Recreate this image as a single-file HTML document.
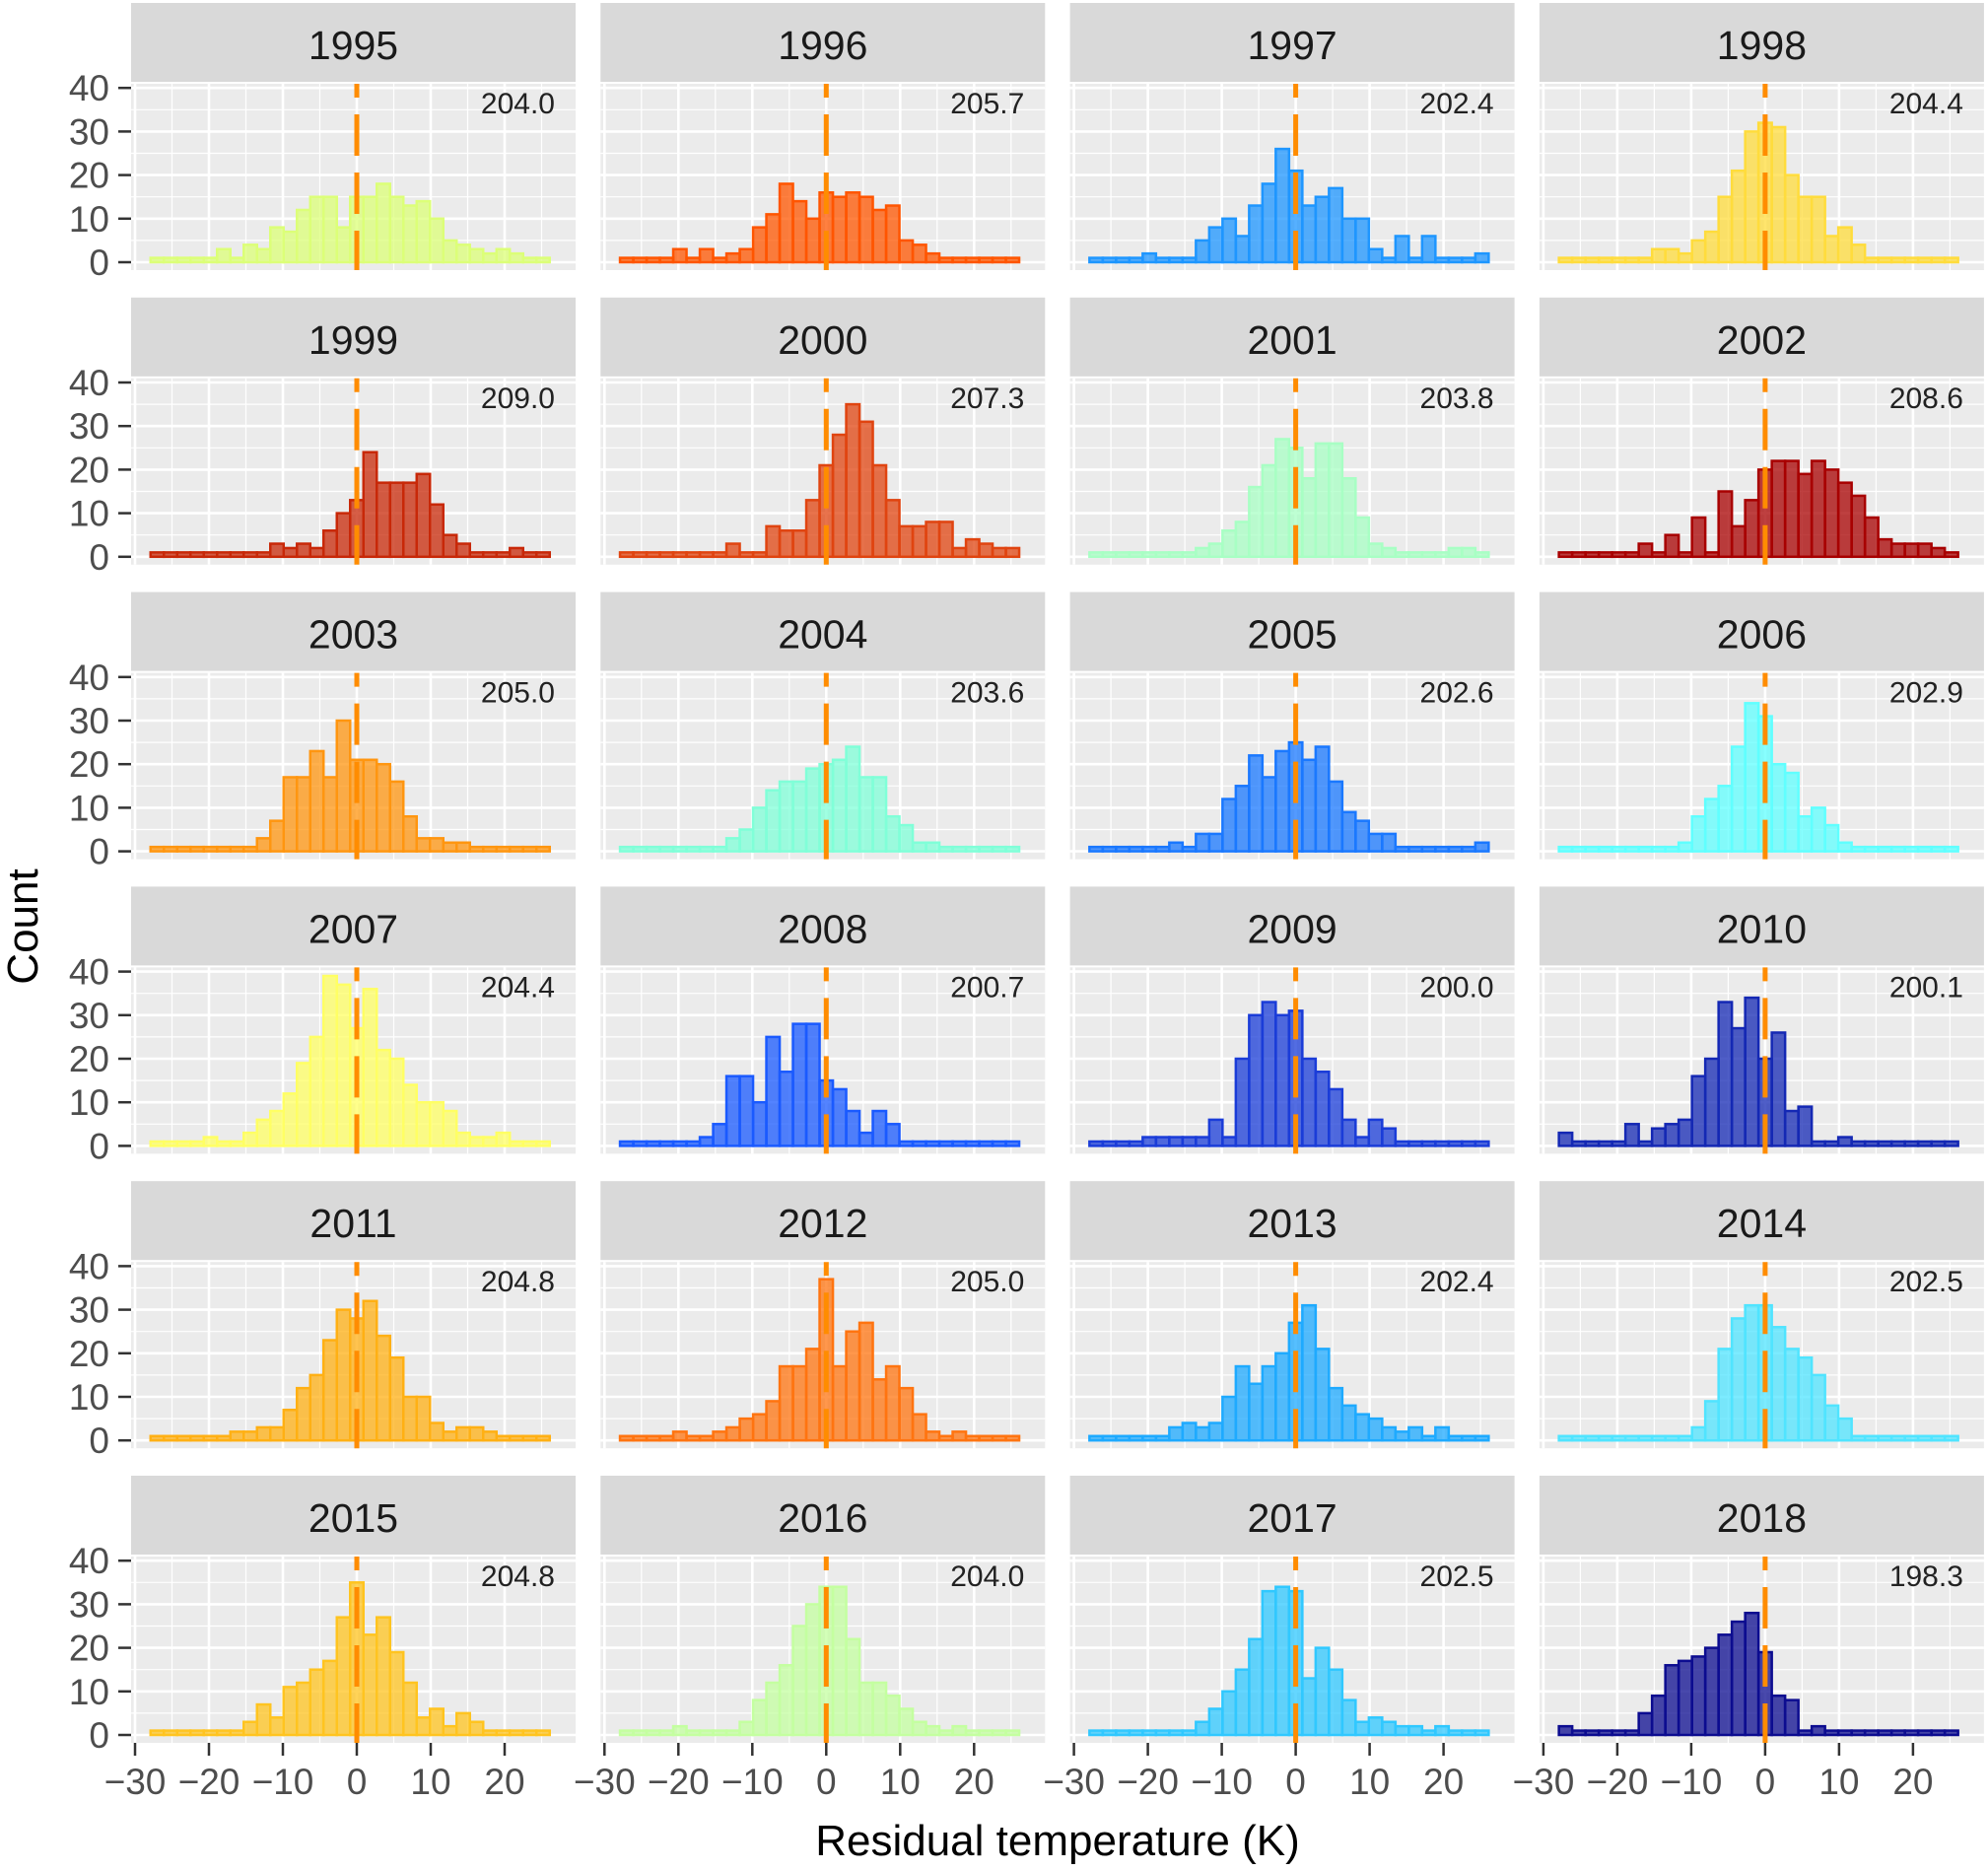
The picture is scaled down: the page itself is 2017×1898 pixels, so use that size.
<!DOCTYPE html>
<html><head><meta charset="utf-8">
<style>
html,body{margin:0;padding:0;background:#fff;}
svg{display:block;font-family:"Liberation Sans",Arial,sans-serif;}
</style></head>
<body>
<svg id="chart" width="2017" height="1898" viewBox="0 0 2017 1898" xmlns="http://www.w3.org/2000/svg">
<text x="0" y="0" transform="translate(38,940) rotate(-90)" text-anchor="middle" font-size="44" fill="#000">Count</text>
<text x="1073" y="1882" text-anchor="middle" font-size="44" fill="#000">Residual  temperature (K)</text>
</svg>
<script>
const years = ["1995","1996","1997","1998","1999","2000","2001","2002","2003","2004","2005","2006","2007","2008","2009","2010","2011","2012","2013","2014","2015","2016","2017","2018"];
const meanLabels = ["204.0","205.7","202.4","204.4","209.0","207.3","203.8","208.6","205.0","203.6","202.6","202.9","204.4","200.7","200.0","200.1","204.8","205.0","202.4","202.5","204.8","204.0","202.5","198.3"];
const colors = ["#dcff78","#ff5500","#1e96ff","#ffdc3c","#c82808","#e04410","#a8ffc4","#a80000","#ff9610","#80ffd8","#1a78ff","#60ffff","#ffff64","#1a5aff","#1a3cd8","#1428b4","#ffb014","#ff7410","#1eaaff","#50e4ff","#ffc420","#c4ffa0","#30c8ff","#0c0c90"];
const binCenters0 = -27, binWidth = 1.8;
const counts = [
[1,1,1,1,1,3,1,4,3,8,7,12,15,15,8,15,15,18,15,13,14,10,5,4,3,2,3,2,1,1],
[1,1,1,1,3,1,3,1,2,3,8,11,18,14,10,16,15,16,15,12,13,5,4,2,1,1,1,1,1,1],
[1,1,1,1,2,1,1,1,5,8,10,6,13,18,26,21,13,15,17,10,10,3,1,6,1,6,1,1,1,2],
[1,1,1,1,1,1,1,3,3,2,5,7,15,21,30,32,31,20,15,15,6,8,4,1,1,1,1,1,1,1],
[1,1,1,1,1,1,1,1,1,3,2,3,2,6,10,13,24,17,17,17,19,12,5,3,1,1,1,2,1,1],
[1,1,1,1,1,1,1,1,3,1,1,7,6,6,13,21,28,35,31,21,13,7,7,8,8,2,4,3,2,2],
[1,1,1,1,1,1,1,1,2,3,6,8,16,21,27,25,18,26,26,18,9,3,2,1,1,1,1,2,2,1],
[1,1,1,1,1,1,3,1,5,1,9,1,15,7,13,20,22,22,19,22,20,17,14,9,4,3,3,3,2,1],
[1,1,1,1,1,1,1,1,3,7,17,17,23,17,30,21,21,20,16,8,3,3,2,2,1,1,1,1,1,1],
[1,1,1,1,1,1,1,1,3,5,10,14,16,16,19,20,21,24,17,17,8,6,2,2,1,1,1,1,1,1],
[1,1,1,1,1,1,2,1,4,4,12,15,22,17,23,25,21,24,16,9,7,4,4,1,1,1,1,1,1,2],
[1,1,1,1,1,1,1,1,1,2,8,12,15,24,34,31,20,18,8,10,6,2,1,1,1,1,1,1,1,1],
[1,1,1,1,2,1,1,3,6,8,12,19,25,39,37,27,36,22,20,14,10,10,8,3,2,2,3,1,1,1],
[1,1,1,1,1,1,2,5,16,16,10,25,17,28,28,15,13,8,3,8,5,1,1,1,1,1,1,1,1,1],
[1,1,1,1,2,2,2,2,2,6,2,20,30,33,30,31,20,17,13,6,2,6,4,1,1,1,1,1,1,1],
[3,1,1,1,1,5,1,4,5,6,16,20,33,27,34,20,26,8,9,1,1,2,1,1,1,1,1,1,1,1],
[1,1,1,1,1,1,2,2,3,3,7,12,15,23,30,28,32,24,19,10,10,4,2,3,3,2,1,1,1,1],
[1,1,1,1,2,1,1,2,3,5,6,9,17,17,21,37,17,25,27,14,17,12,6,2,1,2,1,1,1,1],
[1,1,1,1,1,1,3,4,3,4,10,17,13,17,20,27,31,21,12,8,6,5,3,2,3,1,3,1,1,1],
[1,1,1,1,1,1,1,1,1,1,3,9,21,28,31,31,26,21,19,15,8,5,1,1,1,1,1,1,1,1],
[1,1,1,1,1,1,1,3,7,4,11,12,15,17,27,35,23,27,19,12,4,6,2,5,3,1,1,1,1,1],
[1,1,1,1,2,1,1,1,1,3,8,12,16,25,30,34,34,22,12,12,9,6,3,2,1,2,1,1,1,1],
[1,1,1,1,1,1,1,1,3,6,10,15,22,33,34,33,13,20,15,8,3,4,3,2,2,1,2,1,1,1],
[2,1,1,1,1,1,5,9,16,17,18,20,23,26,28,19,9,8,1,2,1,1,1,1,1,1,1,1,1,1]
];
const yTicks = [0,10,20,30,40];
const xTicks = [-30,-20,-10,0,10,20];
const xTickLabels = ["\u221230","\u221220","\u221210","0","10","20"];

const NS = "http://www.w3.org/2000/svg";
const svg = document.getElementById("chart");
function mk(tag, attrs, parent){const e=document.createElementNS(NS,tag);for(const k in attrs)e.setAttribute(k,attrs[k]);(parent||svg).appendChild(e);return e;}
const colX0 = 133, colPitch = 476.3, panelW = 451;
const rowY0 = 3, rowPitch = 298.8, stripH = 80;
const xScale = 7.5, yScale = 4.42;
function sx(col, v){return colX0 + col*colPitch + 229 + v*xScale;}
function sy(row, v){return rowY0 + row*rowPitch + 263 - v*yScale;}

years.forEach((yr, idx) => {
  const row = Math.floor(idx/4), col = idx%4;
  const left = colX0 + col*colPitch, top = rowY0 + row*rowPitch;
  const g = mk("g", {});
  
  
  const strip = mk("rect", {x:left, y:top, width:panelW, height:stripH, fill:"#d9d9d9"}, g);
  
  
  const st = mk("text", {x:left+panelW/2, y:top+57, "text-anchor":"middle", "font-size":41, fill:"#1a1a1a"}, g);
  st.textContent = yr;
  
  
  const pTop = top + 82, pBot = sy(row, 0) + 8;
  const bg = mk("rect", {x:left, y:pTop, width:panelW, height:pBot-pTop, fill:"#ebebeb"}, g);
  
  
  // grid
  for (let v=-30; v<=30; v+=5) {
    const x = sx(col, v); if (x < left || x > left+panelW) continue;
    const gl = mk("line", {x1:x, x2:x, y1:pTop, y2:pBot, stroke:"#fff", "stroke-width": v%10===0?2.6:1.2}, g);
    
    
  }
  for (let v=0; v<=40; v+=5) {
    const y = sy(row, v);
    const gl = mk("line", {x1:left, x2:left+panelW, y1:y, y2:y, stroke:"#fff", "stroke-width": v%10===0?2.6:1.2}, g);
    
    
  }
  // bars
  counts[idx].forEach((c, i) => {
    const center = binCenters0 + i*binWidth;
    const x1 = sx(col, center - binWidth/2), x2 = sx(col, center + binWidth/2);
    const y = sy(row, c), y0 = sy(row, 0);
    const b = mk("rect", {x:x1, y:y, width:x2-x1, height:y0-y, fill:colors[idx], "fill-opacity":0.75, stroke:colors[idx], "stroke-width":2.5}, g);
    
    
  });
  // zero line
  const zl = mk("line", {x1:sx(col,0), x2:sx(col,0), y1:pTop, y2:pBot, stroke:"#ff8c00", "stroke-width":5, "stroke-dasharray":"14 17 42 17 42 17 42 17 42 17 42 17"}, g);
  
  
  const ann = mk("text", {x:left+430, y:top+112, "text-anchor":"end", "font-size":30, fill:"#222"}, g);
  ann.textContent = meanLabels[idx];
  
  
  // y axis on first column
  if (col === 0) {
    yTicks.forEach(t => {
      const y = sy(row, t);
      const tk = mk("line", {x1:left-13, x2:left, y1:y, y2:y, stroke:"#333", "stroke-width":2.5}, g);
      
      
      const tl = mk("text", {x:left-22, y:y+13, "text-anchor":"end", "font-size":37, fill:"#4d4d4d"}, g);
      tl.textContent = t;
      
      
    });
  }
  // x axis on last row
  if (row === 5) {
    xTicks.forEach((t, k) => {
      const x = sx(col, t);
      const tk = mk("line", {x1:x, x2:x, y1:pBot, y2:pBot+13, stroke:"#333", "stroke-width":2.5}, g);
      
      
      const tl = mk("text", {x:x, y:pBot+52, "text-anchor":"middle", "font-size":37, fill:"#4d4d4d"}, g);
      tl.textContent = xTickLabels[k];
      
      
    });
  }
});
</script>
</body></html>
